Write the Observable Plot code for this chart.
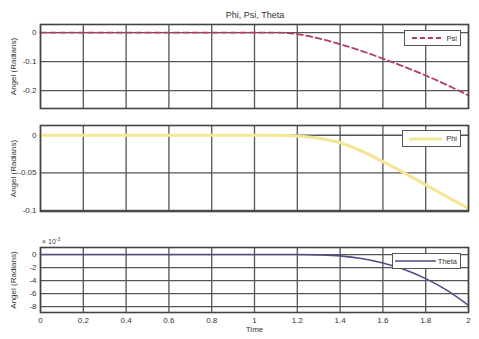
<!DOCTYPE html>
<html><head><meta charset="utf-8">
<script src="https://cdn.jsdelivr.net/npm/d3@7"></script>
<script src="https://cdn.jsdelivr.net/npm/@observablehq/plot@0.6"></script>
<style>
body{margin:0;background:#fff;font-family:"Liberation Sans",Arial,sans-serif;}
#wrap{position:relative;width:479px;height:339px;overflow:hidden;}
.p{position:absolute;left:0;}
.title{position:absolute;top:10px;left:0;width:510px;text-align:center;font-size:9px;color:#333;}
.leg{position:absolute;border:1.5px solid #555;background:#fff;font-size:7.5px;color:#333;display:flex;align-items:center;justify-content:flex-end;padding-right:3px;box-sizing:border-box;}
.leg svg{margin-right:2px;}
.exp{position:absolute;font-size:7px;color:#444;}
</style></head>
<body><div id="wrap"></div>
<script>
const time  = [0,0.2,0.4,0.6,0.8,1.0,1.1,1.2,1.3,1.4,1.5,1.6,1.7,1.8,1.9,2.0];
const psi   = [0,0,0,0,0,0,0,-0.005,-0.02,-0.04,-0.063,-0.09,-0.118,-0.148,-0.181,-0.217];
const phi   = [0,0,0,0,0,0,0,-0.001,-0.004,-0.010,-0.021,-0.035,-0.050,-0.066,-0.082,-0.097];
const theta = [0,0,0,0,0,0,0,0,-0.00005,-0.0002,-0.0006,-0.0013,-0.0023,-0.0037,-0.0055,-0.0078];
const xTicks = [0,0.2,0.4,0.6,0.8,1,1.2,1.4,1.6,1.8,2];
const psiTicks = [0,-0.1,-0.2];
const phiTicks = [0,-0.05,-0.1];
const thetaTicks = [0,-0.002,-0.004,-0.006,-0.008];

const wrap = document.getElementById("wrap");
const W = 479, gridC = "#555";
function panel({top,height,mt,mb,ydom,yt,yfmt,data,stroke,sw,dash,showX}){
  const marks = [
    Plot.gridX(xTicks,{stroke:gridC,strokeOpacity:1,strokeWidth:1.3}),
    Plot.gridY(yt,{stroke:gridC,strokeOpacity:1,strokeWidth:1.3}),
    Plot.line(data,{x:"t",y:"v",stroke,strokeWidth:sw,strokeDasharray:dash,curve:"monotone-x"}),
    Plot.frame({stroke:"#444",strokeWidth:1.6}),
    Plot.axisY(yt,{tickSize:0,tickPadding:4,tickFormat:yfmt,label:"Angel (Radians)",labelAnchor:"center",labelArrow:false,labelOffset:30,fontSize:8,fill:"#333"})
  ];
  if(showX){
    marks.push(Plot.axisX(xTicks,{tickSize:0,tickPadding:5,tickFormat:d=>String(d),label:"Time",labelAnchor:"center",labelArrow:false,labelOffset:19,fontSize:8,fill:"#333"}));
  }
  const p = Plot.plot({width:W,height,marginLeft:40,marginRight:11,marginTop:mt,marginBottom:mb,
    style:{background:"transparent",fontFamily:"Liberation Sans, Arial, sans-serif",fontSize:"8px",color:"#333"},
    x:{domain:[0,2],axis:null},
    y:{domain:ydom,axis:null},
    marks});
  const d = document.createElement("div"); d.className="p"; d.style.top=top+"px";
  d.appendChild(p); wrap.appendChild(d);
}
const mk = arr => time.map((t,i)=>({t,v:arr[i]}));
panel({top:0,height:115,mt:24,mb:7,ydom:[-0.262,0.028],yt:psiTicks,yfmt:d=>String(d),data:mk(psi),stroke:"#b0405e",sw:1.8,dash:"6,3.5",showX:false});
panel({top:115,height:100,mt:10,mb:4,ydom:[-0.1015,0.013],yt:phiTicks,yfmt:d=>String(d),data:mk(phi),stroke:"#f3e796",sw:3.2,dash:null,showX:false});
panel({top:215,height:124,mt:32,mb:27,ydom:[-0.0089,0.00108],yt:thetaTicks,yfmt:d=>String(Math.round(d*1000)),data:mk(theta),stroke:"#4f4f86",sw:1.6,dash:null,showX:true});

const t = document.createElement("div"); t.className="title"; t.textContent="Phi, Psi, Theta"; wrap.appendChild(t);
const e = document.createElement("div"); e.className="exp"; e.style.left="42px"; e.style.top="236px"; e.innerHTML="× 10<sup style='font-size:5px'>-3</sup>"; wrap.appendChild(e);

function legend(x,y,w,h,label,stroke,sw,dash){
  const l = document.createElement("div"); l.className="leg";
  Object.assign(l.style,{left:x+"px",top:y+"px",width:w+"px",height:h+"px"});
  l.innerHTML = `<svg width="${w-22}" height="6"><line x1="2" x2="${w-24}" y1="3" y2="3" stroke="${stroke}" stroke-width="${sw}" ${dash?`stroke-dasharray="${dash}"`:""}/></svg><span>${label}</span>`;
  wrap.appendChild(l);
}
legend(404,30,57,16,"Psi","#b0405e",1.8,"5,3");
legend(402,130,59,17,"Phi","#f3e796",3,null);
legend(392,253,69,16,"Theta","#4f4f86",1.5,null);
</script></body></html>
